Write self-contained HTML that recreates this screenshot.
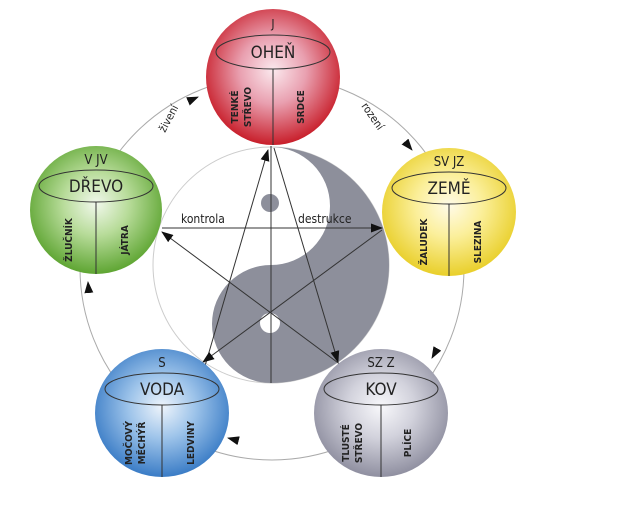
<!DOCTYPE html>
<html><head><meta charset="utf-8"><style>
html,body{margin:0;padding:0;background:#fff;}
svg{display:block;font-family:"DejaVu Sans Condensed","Liberation Sans",sans-serif;}
</style></head><body>
<svg width="626" height="512" viewBox="0 0 626 512">
<defs>
<radialGradient id="gr" cx="50%" cy="45%" r="55%"><stop offset="0" stop-color="#fbe9ee"/><stop offset="0.45" stop-color="#e9a0b0"/><stop offset="1" stop-color="#c81e2a"/></radialGradient>
<radialGradient id="gy" cx="50%" cy="45%" r="55%"><stop offset="0" stop-color="#fffbe8"/><stop offset="0.45" stop-color="#fbef9a"/><stop offset="1" stop-color="#e9cf2a"/></radialGradient>
<radialGradient id="gg" cx="50%" cy="45%" r="55%"><stop offset="0" stop-color="#f1f8ec"/><stop offset="0.45" stop-color="#b8dc9a"/><stop offset="1" stop-color="#5ea532"/></radialGradient>
<radialGradient id="gb" cx="50%" cy="45%" r="55%"><stop offset="0" stop-color="#eef4fb"/><stop offset="0.45" stop-color="#9ec4ea"/><stop offset="1" stop-color="#3a7cc6"/></radialGradient>
<radialGradient id="gs" cx="50%" cy="45%" r="55%"><stop offset="0" stop-color="#f8f8fb"/><stop offset="0.45" stop-color="#d2d2dc"/><stop offset="1" stop-color="#8f8fa0"/></radialGradient>
<marker id="ar" markerWidth="12" markerHeight="9" refX="11" refY="4.5" orient="auto" markerUnits="userSpaceOnUse"><path d="M0,0 L12,4.5 L0,9 Z" fill="#111"/></marker>
</defs>
<!-- outer cycle -->
<circle cx="272" cy="268" r="192" fill="none" stroke="#aaa" stroke-width="1"/>
<!-- yin yang -->
<circle cx="271" cy="265" r="118" fill="#fff" stroke="#ccc" stroke-width="1"/>
<path d="M271,147 A118,118 0 0 1 271,383 A59,59 0 0 1 271,265 A59,59 0 0 0 271,147 Z" fill="#8d8f9b"/>
<circle cx="270" cy="203" r="9" fill="#8d8f9b"/>
<circle cx="270" cy="323" r="10" fill="#fff"/>
<!-- pentagram -->
<g stroke="#333" stroke-width="1" fill="none">
<line x1="271" y1="146" x2="271" y2="383"/>
<line x1="162" y1="228" x2="382" y2="228" marker-end="url(#ar)"/>
<line x1="205" y1="366" x2="268" y2="150" marker-end="url(#ar)"/>
<line x1="274" y1="148" x2="338" y2="362" marker-end="url(#ar)"/>
<line x1="345" y1="368" x2="162" y2="232" marker-end="url(#ar)"/>
<line x1="382" y1="230" x2="203" y2="362" marker-end="url(#ar)"/>
</g>
<g stroke="#aaa" stroke-width="1" fill="none">
<line x1="188.8" y1="101" x2="198" y2="97" marker-end="url(#ar)"/>
<line x1="405.6" y1="142.3" x2="412" y2="150" marker-end="url(#ar)"/>
<line x1="436.9" y1="349.3" x2="432" y2="358" marker-end="url(#ar)"/>
<line x1="237.7" y1="440.5" x2="228" y2="438" marker-end="url(#ar)"/>
<line x1="88.8" y1="292" x2="88" y2="282" marker-end="url(#ar)"/>
</g>
<text x="181" y="223" font-size="12" fill="#222">kontrola</text>
<text x="298" y="223" font-size="12" fill="#222">destrukce</text>
<text transform="translate(165,133) rotate(-62)" font-size="11" fill="#222">živení</text>
<text transform="translate(361,106) rotate(55)" font-size="11" fill="#222">rození</text>

<!-- spheres -->
<g font-weight="bold" fill="#222" text-anchor="middle">
<g transform="translate(273,77)">
<ellipse rx="67" ry="68" fill="url(#gr)"/>
<text y="-49" font-size="12" font-weight="normal">J</text>
<ellipse cy="-25" rx="57" ry="17" fill="none" stroke="#333"/>
<text y="-19" font-size="17" font-weight="normal">OHEŇ</text>
<line x1="0" y1="-8" x2="0" y2="68" stroke="#333"/>
<text transform="translate(-33,30) rotate(-90)" font-size="10"><tspan x="0" dy="-2">TENKÉ</tspan><tspan x="0" dy="13">STŘEVO</tspan></text>
<text transform="translate(27,30) rotate(-90)" font-size="10" dy="4">SRDCE</text>
</g>
<g transform="translate(449,212)">
<ellipse rx="67" ry="64" fill="url(#gy)"/>
<text y="-46" font-size="13" font-weight="normal">SV JZ</text>
<ellipse cy="-24" rx="57" ry="16" fill="none" stroke="#333"/>
<text y="-18" font-size="17" font-weight="normal">ZEMĚ</text>
<line x1="0" y1="-8" x2="0" y2="64" stroke="#333"/>
<text transform="translate(-26,30) rotate(-90)" font-size="10" dy="4">ŽALUDEK</text>
<text transform="translate(28,30) rotate(-90)" font-size="10" dy="4">SLEZINA</text>
</g>
<g transform="translate(96,210)">
<ellipse rx="66" ry="64" fill="url(#gg)"/>
<text y="-46" font-size="13" font-weight="normal">V  JV</text>
<ellipse cy="-24" rx="57" ry="16" fill="none" stroke="#333"/>
<text y="-18" font-size="17" font-weight="normal">DŘEVO</text>
<line x1="0" y1="-8" x2="0" y2="64" stroke="#333"/>
<text transform="translate(-28,30) rotate(-90)" font-size="10" dy="4">ŽLUČNÍK</text>
<text transform="translate(28,30) rotate(-90)" font-size="10" dy="4">JÁTRA</text>
</g>
<g transform="translate(162,413)">
<ellipse rx="67" ry="64" fill="url(#gb)"/>
<text y="-46" font-size="13" font-weight="normal">S</text>
<ellipse cy="-24" rx="57" ry="16" fill="none" stroke="#333"/>
<text y="-18" font-size="17" font-weight="normal">VODA</text>
<line x1="0" y1="-8" x2="0" y2="64" stroke="#333"/>
<text transform="translate(-28,30) rotate(-90)" font-size="10"><tspan x="0" dy="-2">MOČOVÝ</tspan><tspan x="0" dy="13">MĚCHÝŘ</tspan></text>
<text transform="translate(28,30) rotate(-90)" font-size="10" dy="4">LEDVINY</text>
</g>
<g transform="translate(381,413)">
<ellipse rx="67" ry="64" fill="url(#gs)"/>
<text y="-46" font-size="13" font-weight="normal">SZ  Z</text>
<ellipse cy="-24" rx="57" ry="16" fill="none" stroke="#333"/>
<text y="-18" font-size="17" font-weight="normal">KOV</text>
<line x1="0" y1="-8" x2="0" y2="64" stroke="#333"/>
<text transform="translate(-30,30) rotate(-90)" font-size="10"><tspan x="0" dy="-2">TLUSTÉ</tspan><tspan x="0" dy="13">STŘEVO</tspan></text>
<text transform="translate(26,30) rotate(-90)" font-size="10" dy="4">PLÍCE</text>
</g>
</g>
</svg>
</body></html>
